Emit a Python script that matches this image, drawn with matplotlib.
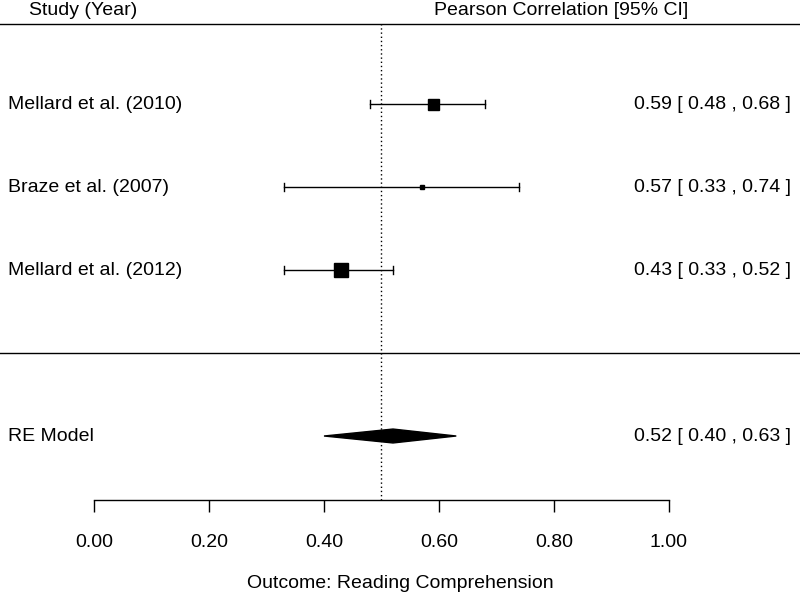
import matplotlib
matplotlib.use('Agg')
import matplotlib.pyplot as plt
from matplotlib.patches import Polygon

plt.rcParams['font.family'] = ['Liberation Sans', 'DejaVu Sans']

studies = ['Mellard et al. (2010)', 'Braze et al. (2007)', 'Mellard et al. (2012)']
est = [0.59, 0.57, 0.43]
lower = [0.48, 0.33, 0.33]
upper = [0.68, 0.74, 0.52]
sq_px = [11, 5, 14]   # square size in pixels (weights)
rows = [3, 2, 1]

re_label = 'RE Model'
re_est, re_lo, re_hi = 0.52, 0.40, 0.63
re_row = -1

ref_line = 0.5
ticks = [0.0, 0.2, 0.4, 0.6, 0.8, 1.0]
px = 575.0  # pixels per unit on x
top_row = 3.964

fig = plt.figure(figsize=(8, 5.94), dpi=100)
ax = fig.add_axes([0, (594 - 500) / 594, 1, 500 / 594])
ax.set_xlim(-94 / px, (800 - 94) / px)
ax.set_ylim(-1.771, 4.253)

for s in ['top', 'right', 'left']:
    ax.spines[s].set_visible(False)
ax.spines['bottom'].set_bounds(0, 1)
ax.spines['bottom'].set_linewidth(1)
ax.set_yticks([])
ax.set_xticks(ticks)
ax.set_xticklabels(['%.2f' % t for t in ticks], fontsize=14)
ax.tick_params(axis='x', direction='out', length=8.6, width=1, pad=16)
ax.set_xlabel('Outcome: Reading Comprehension', fontsize=14, labelpad=17)

# horizontal lines
ax.axhline(top_row, color='black', lw=1, clip_on=False)
ax.axhline(0, color='black', lw=1)
# reference line
ax.plot([ref_line, ref_line], [-1.771, top_row], color='black', lw=1, ls=(0, (1, 2)))

cap = 0.054
for r, e, lo, hi, s, name in zip(rows, est, lower, upper, sq_px, studies):
    ax.plot([lo, hi], [r, r], color='black', lw=1)
    ax.plot([lo, lo], [r - cap, r + cap], color='black', lw=1)
    ax.plot([hi, hi], [r - cap, r + cap], color='black', lw=1)
    ax.plot(e, r, marker='s', color='black', markersize=s * 0.72, ls='none')
    ax.text(-86 / px, r, name, ha='left', va='center', fontsize=14)
    ax.text(697 / px, r, '%.2f [ %.2f , %.2f ]' % (e, lo, hi),
            ha='right', va='center', fontsize=14)

h = 0.084
ax.add_patch(Polygon([(re_lo, re_row), (re_est, re_row + h), (re_hi, re_row),
                      (re_est, re_row - h)], closed=True, color='black'))
ax.text(-86 / px, re_row, re_label, ha='left', va='center', fontsize=14)
ax.text(697 / px, re_row, '%.2f [ %.2f , %.2f ]' % (re_est, re_lo, re_hi),
        ha='right', va='center', fontsize=14)

ax.text(-11 / px, 4.13, 'Study (Year)', ha='center', va='center', fontsize=14)
ax.text(467 / px, 4.13, 'Pearson Correlation [95% CI]', ha='center', va='center', fontsize=14)

fig.savefig('out.png', dpi=100)
